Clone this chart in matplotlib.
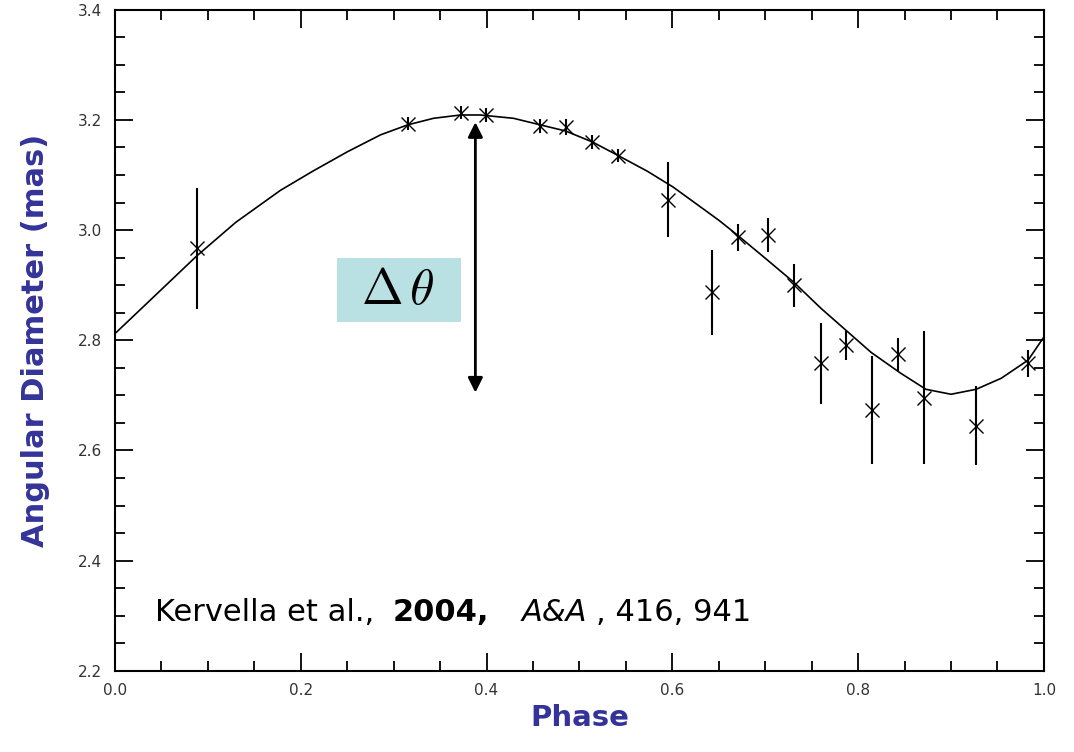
import numpy as np
import matplotlib
matplotlib.use('Agg')
from matplotlib import pyplot as plt
from matplotlib.ticker import MultipleLocator, FormatStrFormatter
from matplotlib.patches import Rectangle

# Data
phase = [0.088, 0.315, 0.373, 0.399, 0.458, 0.486, 0.514, 0.541, 0.595, 0.643,
         0.671, 0.703, 0.731, 0.760, 0.787, 0.815, 0.843, 0.871, 0.927, 0.983]
diam = [2.967, 3.193, 3.213, 3.209, 3.189, 3.187, 3.160, 3.135, 3.055, 2.887,
        2.987, 2.991, 2.900, 2.758, 2.791, 2.673, 2.775, 2.696, 2.645, 2.758]
err = [0.110, 0.012, 0.012, 0.012, 0.012, 0.015, 0.012, 0.012, 0.068, 0.077,
       0.025, 0.031, 0.039, 0.073, 0.026, 0.098, 0.030, 0.120, 0.072, 0.025]

# model curve (read point by point)
model_phase = [0.0, 0.03, 0.088, 0.130, 0.178, 0.213, 0.25, 0.286, 0.315, 0.343,
               0.372, 0.393, 0.429, 0.458, 0.485, 0.514, 0.541, 0.573, 0.601, 0.65,
               0.670, 0.70, 0.731, 0.76, 0.787, 0.814, 0.846, 0.873, 0.90, 0.927,
               0.954, 0.983, 1.0]
model_diam = [2.812, 2.860, 2.953, 3.014, 3.072, 3.107, 3.142, 3.173, 3.191, 3.203,
              3.209, 3.209, 3.203, 3.191, 3.180, 3.160, 3.136, 3.107, 3.078, 3.018,
              2.991, 2.949, 2.905, 2.858, 2.818, 2.778, 2.740, 2.711, 2.702, 2.711,
              2.731, 2.764, 2.806]

# amplitude arrow
arrow_phase = 0.388
arrow_low, arrow_high = 2.705, 3.196

blue = '#333399'
plt.rcParams['mathtext.fontset'] = 'cm'

fig = plt.figure(figsize=(10.74, 7.52), dpi=100)
ax = fig.add_axes([0.107, 0.108, 0.865, 0.879])

ax.plot(model_phase, model_diam, color='black', lw=1.2)
ax.errorbar(phase, diam, yerr=err, fmt='x', color='black', ms=10, mew=1.0,
            elinewidth=1.5, capsize=0)

ax.set_xlim(0.0, 1.0)
ax.set_ylim(2.2, 3.4)
ax.xaxis.set_major_locator(MultipleLocator(0.2))
ax.xaxis.set_minor_locator(MultipleLocator(0.05))
ax.yaxis.set_major_locator(MultipleLocator(0.2))
ax.yaxis.set_minor_locator(MultipleLocator(0.05))
ax.tick_params(which='both', direction='in', top=True, right=True, width=1.3,
               labelsize=11, labelcolor='#333333')
ax.tick_params(which='major', length=13, pad=9)
ax.tick_params(which='minor', length=7)
ax.xaxis.set_major_formatter(FormatStrFormatter('%.1f'))
ax.yaxis.set_major_formatter(FormatStrFormatter('%.1f'))
for s in ax.spines.values():
    s.set_linewidth(1.5)

ax.set_xlabel('Phase', fontsize=21, fontweight='bold', color=blue, labelpad=4)
ax.set_ylabel('Angular Diameter (mas)', fontsize=22, fontweight='bold', color=blue, labelpad=20)

# delta theta annotation
ax.annotate('', xy=(arrow_phase, arrow_high), xytext=(arrow_phase, arrow_low),
            arrowprops=dict(arrowstyle='<|-|>', color='black', lw=2, mutation_scale=22,
                            shrinkA=0, shrinkB=0))
ax.add_patch(Rectangle((0.239, 2.833), 0.133, 0.116, fc='#b9e0e3', ec='none'))
ax.text(0.305, 2.891, r'$\Delta\,\theta$', fontsize=36, ha='center', va='center')

# reference
ax.text(0.043, 2.305, 'Kervella et al.,', fontsize=22, va='center')
ax.text(0.299, 2.305, '2004,', fontsize=22, fontweight='bold', va='center')
ax.text(0.438, 2.305, 'A&A', fontsize=22, style='italic', va='center')
ax.text(0.518, 2.305, ', 416, 941', fontsize=22, va='center')

plt.savefig('out.png', dpi=100)
